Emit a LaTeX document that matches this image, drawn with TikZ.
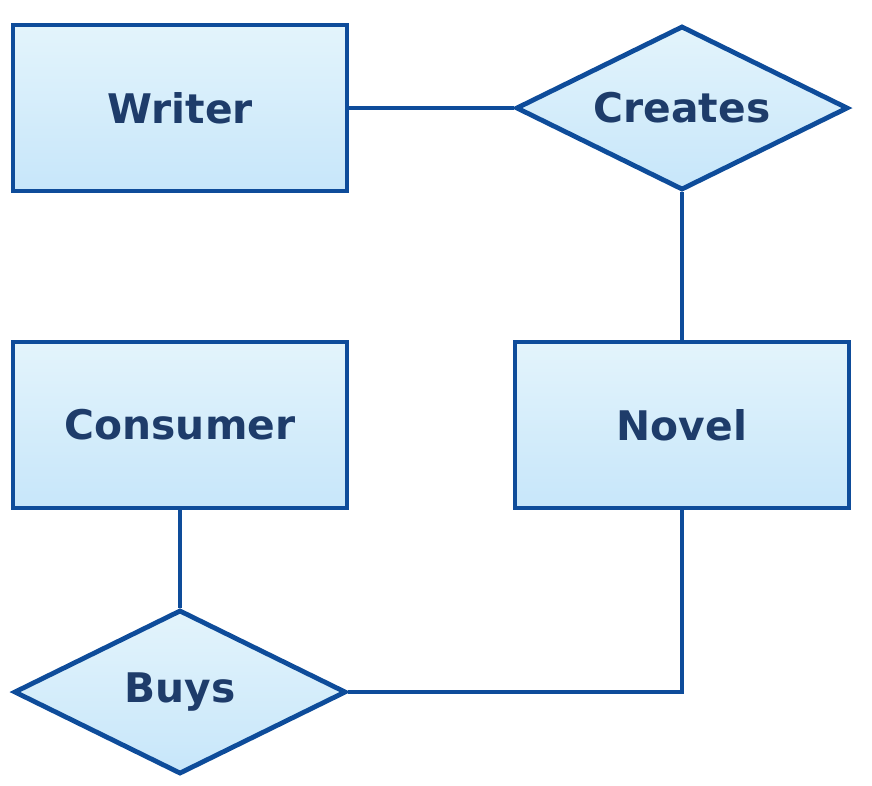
\documentclass[tikz,border=0pt]{standalone}
\usepackage{fontspec}
\setmainfont{DejaVu Sans}
\usepackage{tikz}
\usetikzlibrary{positioning, shapes.geometric}
\definecolor{bordeER}{HTML}{0E4C9A}
\definecolor{textoER}{HTML}{1E3C6A}
\definecolor{rellenoArriba}{HTML}{E3F4FB}
\definecolor{rellenoAbajo}{HTML}{C7E6FA}

\begin{document}
\begin{tikzpicture}[
  x=0.025cm, y=-0.025cm,
  font=\fontsize{29}{35}\selectfont\bfseries,
  entidad/.style={rectangle, draw=bordeER, line width=0.12cm,
    top color=rellenoArriba, bottom color=rellenoAbajo, text=textoER,
    minimum width=8.35cm, minimum height=4.15cm, inner sep=0pt},
  relacion/.style={diamond, aspect=2, draw=bordeER, line width=0.12cm,
    top color=rellenoArriba, bottom color=rellenoAbajo, text=textoER,
    minimum width=8.3cm, minimum height=4.1cm, inner sep=0pt},
  linea/.style={draw=bordeER, line width=0.12cm}
]
  \useasboundingbox (0,0) rectangle (872,785);

  % --- Entidades ---
  \node[entidad]  (writer)   at (180,108) {Writer};
  \node[entidad]  (consumer) at (180,425) {Consumer};
  \node[entidad]  (novel)    at (682,425) {Novel};

  % --- Relaciones ---
  \node[relacion] (creates)  at (682,108) {Creates};
  \node[relacion] (buys)     at (180,692) {Buys};

  % --- Conexiones ---
  \draw[linea] (writer.east) -- (creates.west);
  \draw[linea] (creates.south) -- (novel.north);
  \draw[linea] (consumer.south) -- (buys.north);
  \draw[linea] (buys.east) -| (novel.south);

\end{tikzpicture}
\end{document}
